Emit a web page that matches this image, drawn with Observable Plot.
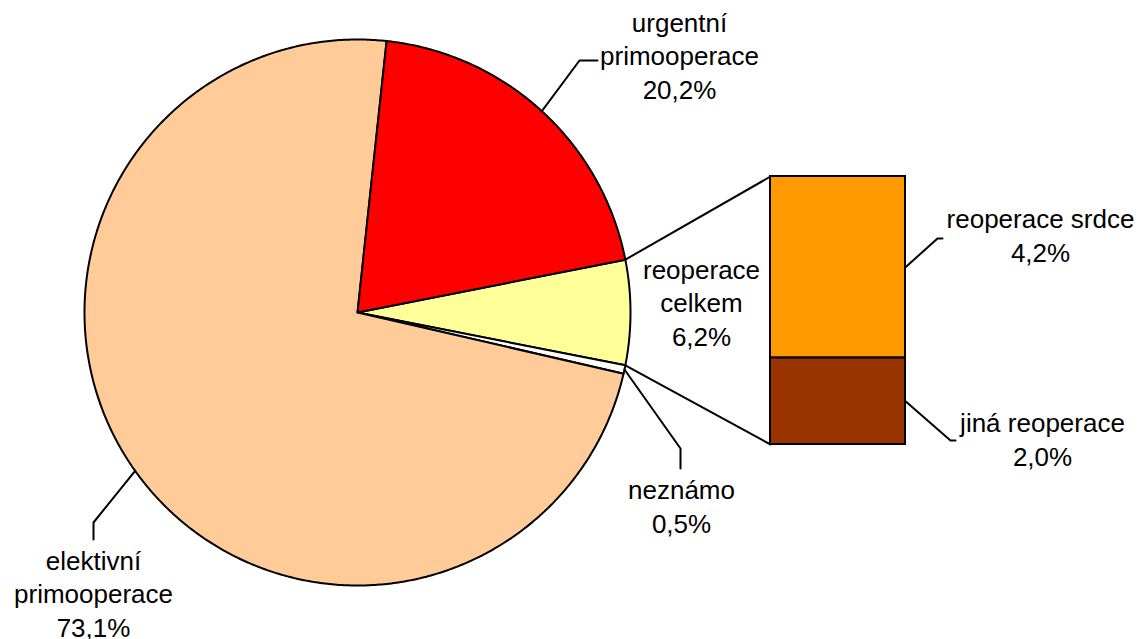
<!DOCTYPE html>
<html>
<head>
<meta charset="utf-8">
<script src="https://cdn.jsdelivr.net/npm/d3@7"></script>
<script src="https://cdn.jsdelivr.net/npm/@observablehq/plot@0.6"></script>
<style>
  html, body { margin: 0; padding: 0; background: #ffffff; }
  #chart svg { display: block; }
</style>
</head>
<body>
<div id="chart"></div>
<script>
// ---- Data ----
const pieCategories = ["reoperace celkem", "neznámo", "elektivní primooperace", "urgentní primooperace"];
const pieLabels = ["reoperace\ncelkem", "neznámo", "elektivní\nprimooperace", "urgentní\nprimooperace"];
const pieValues = [6.2, 0.5, 73.1, 20.2];
const barCategories = ["reoperace srdce", "jiná reoperace"];
const barLabels = ["reoperace srdce", "jiná reoperace"];
const barValues = [4.2, 2.0];

// ---- Styles ----
const pieColors = ["#FFFF99", "#FFFFFF", "#FFCC99", "#FF0000"];
const barColors = ["#FF9900", "#993300"];

// ---- Layout ----
const W = 1141, H = 639;
const cx = 357, cy = 312, R = 273;
const bar = {x1: 770, x2: 905, top: 176, bottom: 444};
// label centres and leader elbows (null = no leader)
const pieLabelPos = [[701, 301], [681, 505], [93, 592], [679, 54]];
const pieLeader = [null, [[680, 448], [680, 468]], [[93, 522], [93, 539]], [[579, 60], [597, 60]]];
const barLabelPos = [[1040, 234], [1042, 438]];
const barLeader = [[[937, 238], [942, 238]], [[950, 440], [955, 440]]];

const fmt = v => v.toFixed(1).replace(".", ",") + "%";
const total = d3.sum(pieValues);
const toDeg = v => v / total * 360;
const startDeg = 90 - toDeg(pieValues[0]) / 2;
const pt = deg => {
  const a = deg * Math.PI / 180;
  return {x: cx + R * Math.sin(a), y: cy - R * Math.cos(a)};
};

// slices
let acc = startDeg;
const slices = pieValues.map((v, i) => {
  const a0 = acc, a1 = acc + toDeg(v);
  acc = a1;
  const pts = [{x: cx, y: cy}];
  const n = Math.max(2, Math.ceil((a1 - a0) / 0.5));
  for (let k = 0; k <= n; k++) pts.push(pt(a0 + (a1 - a0) * k / n));
  return {i, a0, a1, mid: (a0 + a1) / 2, pts};
});

// bar segments
const barTotal = d3.sum(barValues);
const kBar = (bar.bottom - bar.top) / barTotal;
let c = 0;
const barSegs = barValues.map((v, i) => {
  const s = {i, y1: bar.top + c * kBar, y2: bar.top + (c + v) * kBar};
  c += v;
  return s;
});

// text
const labelData = [
  ...pieValues.map((v, i) => ({x: pieLabelPos[i][0], y: pieLabelPos[i][1], t: pieLabels[i] + "\n" + fmt(v)})),
  ...barValues.map((v, i) => ({x: barLabelPos[i][0], y: barLabelPos[i][1], t: barLabels[i] + "\n" + fmt(v)}))
];

// leader lines
const leaders = [];
slices.forEach(s => {
  const L = pieLeader[s.i];
  if (!L) return;
  const p = pt(s.mid);
  leaders.push([p, ...L.map(([x, y]) => ({x, y}))].map(q => ({...q, g: "p" + s.i})));
});
barSegs.forEach(s => {
  const L = barLeader[s.i];
  const p = {x: bar.x2, y: (s.y1 + s.y2) / 2};
  leaders.push([p, ...L.map(([x, y]) => ({x, y}))].map(q => ({...q, g: "b" + s.i})));
});

// connectors from reoperace slice to bar
const rs = slices[0];
const connectors = [
  [{...pt(rs.a0), g: "c0"}, {x: bar.x1, y: bar.top, g: "c0"}],
  [{...pt(rs.a1), g: "c1"}, {x: bar.x1, y: bar.bottom, g: "c1"}]
].flat();

const marks = [];
slices.forEach(s => {
  marks.push(Plot.line(s.pts, {x: "x", y: "y", curve: "linear-closed", fill: pieColors[s.i], stroke: "#000", strokeWidth: 2, strokeLinejoin: "round"}));
});
marks.push(Plot.line(connectors, {x: "x", y: "y", z: "g", stroke: "#000", strokeWidth: 2}));
marks.push(Plot.rect(barSegs, {x1: () => bar.x1, x2: () => bar.x2, y1: "y1", y2: "y2", fill: d => barColors[d.i], stroke: "#000", strokeWidth: 2}));
marks.push(Plot.line(leaders.flat(), {x: "x", y: "y", z: "g", stroke: "#000", strokeWidth: 2}));
marks.push(Plot.text(labelData, {x: "x", y: "y", text: "t", fontSize: 26, lineHeight: 1.3, fill: "#000", fontFamily: "'Liberation Sans', Arial, sans-serif"}));

const chart = Plot.plot({
  width: W, height: H, margin: 0,
  x: {domain: [0, W], range: [0, W], axis: null},
  y: {domain: [0, H], range: [0, H], axis: null},
  color: {type: "identity"},
  style: {background: "#ffffff"},
  marks
});
document.getElementById("chart").appendChild(chart);
</script>
</body>
</html>
